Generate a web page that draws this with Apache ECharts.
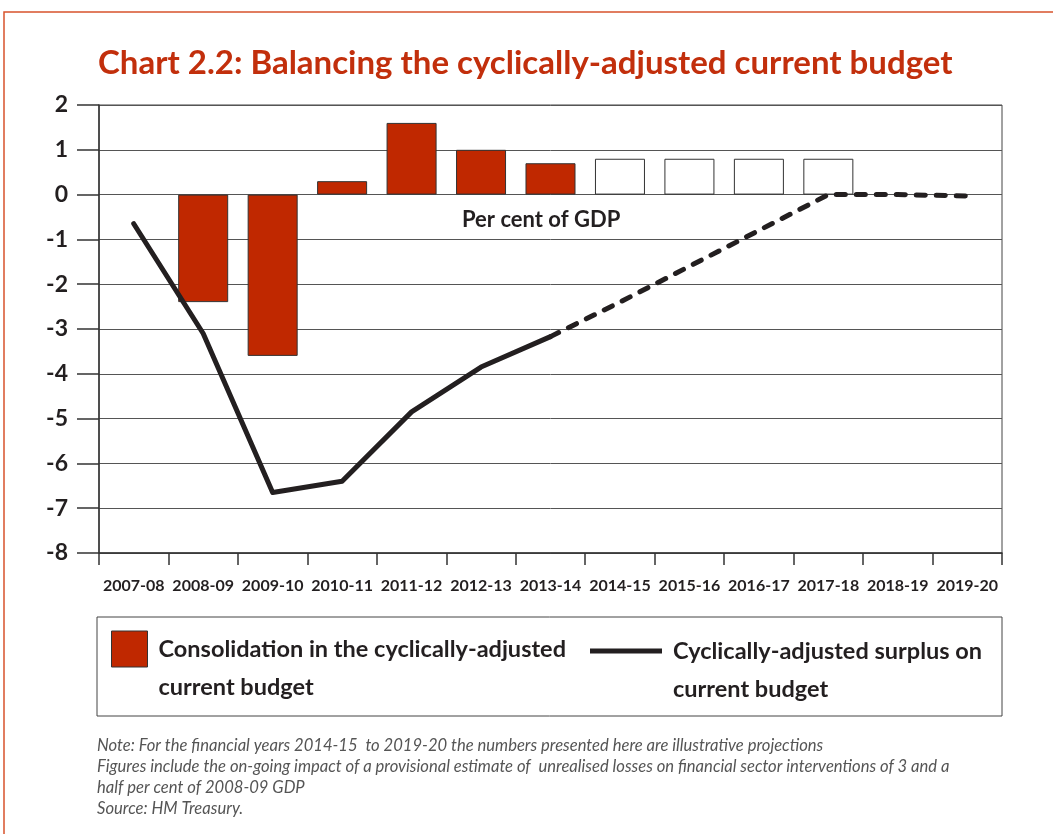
<!DOCTYPE html>
<html>
<head>
<meta charset="utf-8">
<script src="https://cdn.jsdelivr.net/npm/echarts@6/dist/echarts.min.js"></script>
<style>
  html, body { margin: 0; padding: 0; background: #fff; }
  #chart { width: 1053px; height: 834px; }
</style>
</head>
<body>
<div id="chart"></div>
<script>
// financial years on the x axis
const years = ['2007-08', '2008-09', '2009-10', '2010-11', '2011-12', '2012-13', '2013-14',
  '2014-15', '2015-16', '2016-17', '2017-18', '2018-19', '2019-20']

// consolidation (outturn / plans), per cent of GDP
const consolidation = [null, -2.4, -3.6, 0.3, 1.6, 1.0, 0.7, null, null, null, null, null, null]
// illustrative projections (drawn as empty bars)
const consolidationProjected = [null, null, null, null, null, null, null, 0.8, 0.8, 0.8, 0.8, null, null]

// cyclically-adjusted surplus on current budget
const surplus = [-0.65, -3.1, -6.65, -6.4, -4.85, -3.85, -3.17, null, null, null, null, null, null]
const surplusProjected = [null, null, null, null, null, null, -3.17, -2.4, -1.6, -0.8, 0, 0, -0.03]

const yTicks = { min: -8, max: 2, step: 1 }

const notes = [
  'Note: For the financial years 2014-15  to 2019-20 the numbers presented here are illustrative projections',
  'Figures include the on-going impact of a provisional estimate of  unrealised losses on financial sector interventions of 3 and a',
  'half per cent of 2008-09 GDP',
  'Source: HM Treasury.'
]

const FONT = 'Lato, "Open Sans", sans-serif'
const RED = '#c02800'
const INK = '#231f20'

const chart = echarts.init(document.getElementById('chart'), null, { renderer: 'canvas' })

const legendText = {
  color: INK,
  fontFamily: FONT,
  fontWeight: 'bold',
  fontSize: 23.5,
  lineHeight: 38,
  padding: [0, 0, 0, 6]
}

// leading blank line keeps the first text line level with the key
const legendLabel = (name) => '\n' + name

chart.setOption({
  backgroundColor: '#fff',
  animation: false,
  title: {
    text: 'Chart 2.2: Balancing the cyclically-adjusted current budget',
    left: 93,
    top: 42,
    textStyle: {
      color: '#c22f0c',
      fontFamily: FONT,
      fontWeight: 'bold',
      fontSize: 33
    }
  },
  grid: {
    left: 99,
    right: 51,
    top: 105,
    bottom: 281,
    show: true,
    borderColor: '#444',
    borderWidth: 1
  },
  legend: [
    {
      left: 111,
      top: 592,
      padding: 0,
      itemWidth: 36,
      itemHeight: 36,
      icon: 'rect',
      selectedMode: false,
      formatter: legendLabel,
      data: [{ name: 'Consolidation in the cyclically-adjusted\ncurrent budget', itemStyle: { color: RED, borderColor: '#333', borderWidth: 1 } }],
      textStyle: legendText
    },
    {
      left: 590,
      top: 594,
      padding: 0,
      itemWidth: 72,
      itemHeight: 5,
      icon: 'rect',
      selectedMode: false,
      formatter: legendLabel,
      data: [{ name: 'Cyclically-adjusted surplus on\ncurrent budget', itemStyle: { color: INK } }],
      textStyle: legendText
    }
  ],
  xAxis: {
    type: 'category',
    data: years,
    boundaryGap: true,
    axisLine: { onZero: false, lineStyle: { color: '#333', width: 1.5 } },
    axisTick: { show: true, length: 12, interval: 0, lineStyle: { color: '#333', width: 1.5 } },
    axisLabel: {
      interval: 0,
      margin: 25,
      color: INK,
      fontFamily: FONT,
      fontWeight: 'bold',
      fontSize: 16
    },
    splitLine: { show: false }
  },
  yAxis: {
    type: 'value',
    min: yTicks.min,
    max: yTicks.max,
    interval: yTicks.step,
    axisLine: { show: true, lineStyle: { color: '#333', width: 1.5 } },
    axisTick: { show: true, length: 22, lineStyle: { color: '#333', width: 1.5 } },
    axisLabel: {
      margin: 31,
      color: INK,
      fontFamily: FONT,
      fontWeight: 'bold',
      fontSize: 23
    },
    splitLine: { show: true, lineStyle: { color: '#555', width: 1 } }
  },
  graphic: [
    {
      type: 'rect',
      silent: true,
      shape: { x: 4, y: 12, width: 1200, height: 1000 },
      style: { fill: 'none', stroke: '#d8532c', lineWidth: 1.5 }
    },
    {
      type: 'rect',
      silent: true,
      shape: { x: 97, y: 617, width: 905, height: 99 },
      style: { fill: 'none', stroke: '#444', lineWidth: 1 }
    },
    {
      type: 'text',
      left: 462,
      top: 209,
      style: {
        text: 'Per cent of GDP',
        fill: INK,
        font: 'bold 22px ' + FONT
      }
    },
    {
      type: 'text',
      left: 97,
      top: 735,
      style: {
        text: notes.join('\n'),
        fill: '#555',
        font: 'italic 16.6px ' + FONT,
        lineHeight: 21
      }
    }
  ],
  series: [
    {
      name: 'Consolidation in the cyclically-adjusted\ncurrent budget',
      type: 'bar',
      data: consolidation,
      barWidth: '72%',
      barGap: '-100%',
      itemStyle: { color: RED, borderColor: '#333', borderWidth: 1 }
    },
    {
      name: 'Projected consolidation',
      type: 'bar',
      data: consolidationProjected,
      barWidth: '72%',
      barGap: '-100%',
      itemStyle: { color: '#fff', borderColor: '#333', borderWidth: 1 }
    },
    {
      name: 'Cyclically-adjusted surplus on\ncurrent budget',
      type: 'line',
      data: surplus,
      showSymbol: false,
      symbol: 'none',
      lineStyle: { color: INK, width: 5, cap: 'round', join: 'round' },
      z: 5
    },
    {
      name: 'Projected surplus',
      type: 'line',
      data: surplusProjected,
      showSymbol: false,
      symbol: 'none',
      lineStyle: { color: INK, width: 5, type: [9, 11], cap: 'round', join: 'round' },
      z: 5
    }
  ]
})
</script>
</body>
</html>
